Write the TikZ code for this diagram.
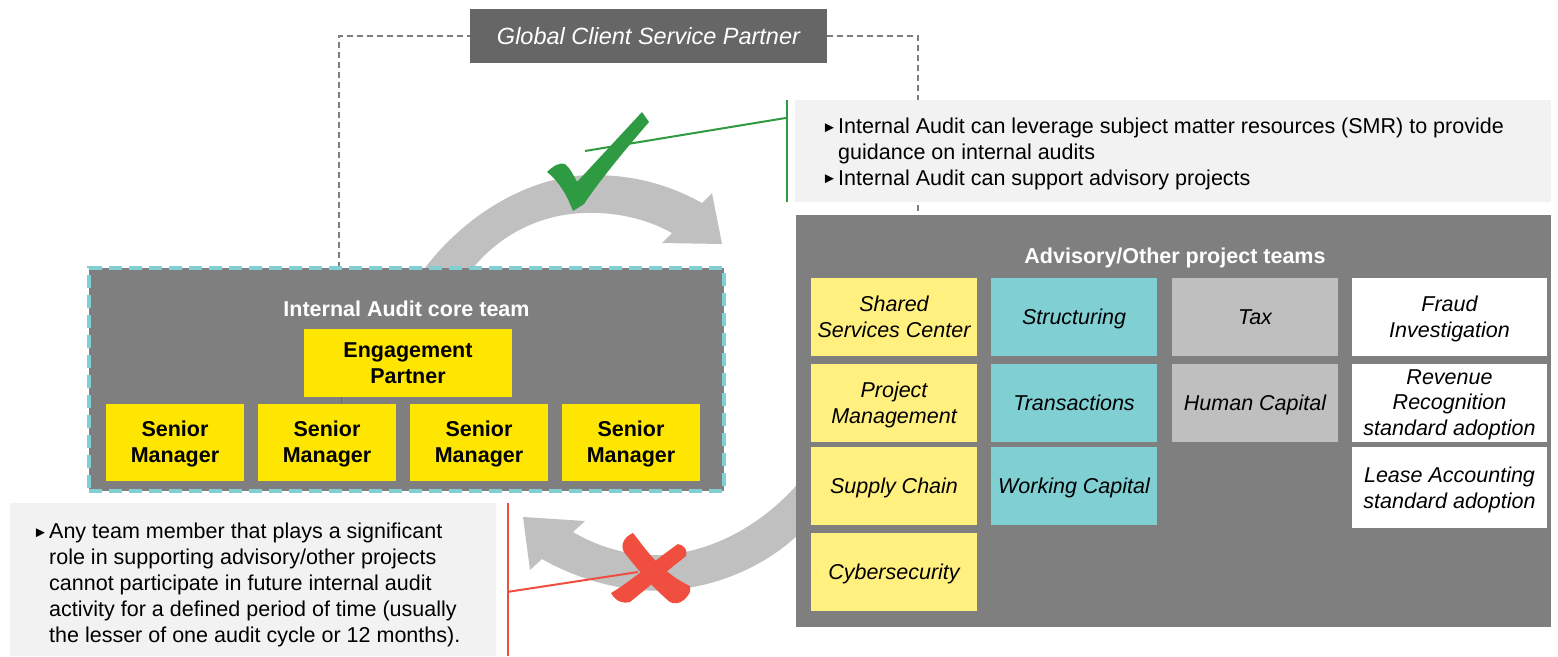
\documentclass[tikz,border=0pt]{standalone}
\usepackage{fontspec}
\setmainfont{Liberation Sans}
\usetikzlibrary{positioning,calc}
\definecolor{boxgray}{RGB}{127,127,127}
\definecolor{titlegray}{RGB}{102,102,102}
\definecolor{arrowgray}{RGB}{192,192,192}
\definecolor{paleback}{RGB}{242,242,242}
\definecolor{eyyellow}{RGB}{255,230,0}
\definecolor{paleyellow}{RGB}{255,240,128}
\definecolor{tealcell}{RGB}{127,207,211}
\definecolor{greycell}{RGB}{191,191,191}
\definecolor{checkgreen}{RGB}{46,154,66}
\definecolor{crossred}{RGB}{240,78,62}
\newcommand{\bodysize}{\fontsize{21.5}{25.8}\selectfont}
\newcommand{\bul}{\makebox[16pt][l]{\fontsize{15}{15}\selectfont\raisebox{1.5pt}{►}}}
\tikzset{
  panel/.style={rectangle,fill=boxgray,inner sep=0pt},
  notebox/.style={rectangle,fill=paleback,inner sep=0pt},
  notetext/.style={font=\bodysize,align=left,inner sep=0pt,text=black},
  ybox/.style={rectangle,fill=eyyellow,inner sep=0pt,align=center,text depth=0pt,font=\bodysize\bfseries},
  cell/.style={rectangle,inner sep=0pt,align=center,text depth=0pt,font=\bodysize\itshape,minimum width=166pt,minimum height=78pt},
  headtext/.style={font=\bodysize\bfseries,text=white}
}

\begin{document}
\begin{tikzpicture}[
  x=1pt,y=-1pt,
  ycell/.style={cell,fill=paleyellow},
  tcell/.style={cell,fill=tealcell},
  gcell/.style={cell,fill=greycell},
  wcell/.style={cell,fill=white,minimum width=195pt},
  dashline/.style={draw=titlegray!85,line width=1.2pt,dash pattern=on 6pt off 4pt},
  greenline/.style={draw=checkgreen,line width=2pt},
  redline/.style={draw=crossred,line width=2pt},
  bigarrow/.style={fill=arrowgray}
]
\useasboundingbox (0,0) rectangle (1558,656);

\node[fill=titlegray,text=white,inner sep=0pt,minimum width=357pt,minimum height=54pt,
      font=\fontsize{23.5}{27}\selectfont\itshape] (gcsp) at (648.5,36) {Global Client Service Partner};

\coordinate (dl) at (339,268);
\coordinate (dr) at (918,215);

% reporting line, runs behind the boxes
\draw[dashline] (dl) |- (gcsp.west);
\draw[dashline] (gcsp.east) -| (dr);

% the two big arrows
\fill[bigarrow] (425,268) .. controls (465,215) and (530,175) .. (593,175)
  .. controls (640,175) and (675,188) .. (702,203) -- (712,193) -- (722,244)
  -- (662,243) -- (672,233) .. controls (645,218) and (615,212) .. (585,213)
  .. controls (540,214) and (500,235) .. (473,268) -- cycle;
\fill[bigarrow] (812,520) .. controls (770,570) and (700,595) .. (640,590)
  .. controls (605,587) and (570,575) .. (542,559) -- (530,570) -- (523,517)
  -- (585,521) -- (573,532) .. controls (600,548) and (630,556) .. (660,555)
  .. controls (715,553) and (770,520) .. (805,475) -- cycle;

% core team
\node[panel,minimum width=635pt,minimum height=223pt,draw=tealcell,line width=3.5pt,
      dash pattern=on 13pt off 7pt] (core) at (406.5,379.5) {};
\node[headtext] (coretitle) at (406.5,309) {Internal Audit core team};
\node[ybox,minimum width=208pt,minimum height=68pt] (ep) at (408,363) {Engagement\\Partner};
\foreach \i/\cx in {1/175,2/327,3/479,4/631}{
  \node[ybox,minimum width=138pt,minimum height=77pt] (sm\i) at (\cx,442) {Senior\\Manager};
}
\coordinate (tk) at (341,397);
\draw[titlegray,line width=1pt] (tk) -- (tk |- sm2.north);

% advisory teams
\node[panel,minimum width=755pt,minimum height=412pt] (adv) at (1173.5,421) {};
\node[headtext,text depth=0pt] (advtitle) at (1175,256) {Advisory/Other project teams};

\node[ycell] (ssc)   at (894,317)    {Shared\\Services Center};
\node[ycell] (pm)    at (894,402.5)  {Project\\Management};
\node[ycell] (sc)    at (894,486)    {Supply Chain};
\node[ycell] (cyber) at (894,572)    {Cybersecurity};
\node[tcell] (str)   at (1074,317)   {Structuring};
\node[tcell] (trans) at (1074,402.5) {Transactions};
\node[tcell] (wc)    at (1074,486)   {Working Capital};
\node[gcell] (tax)   at (1255,317)   {Tax};
\node[gcell] (hc)    at (1255,402.5) {Human Capital};
\node[wcell] (fraud) at (1449.5,317)   {Fraud\\Investigation};
\node[wcell] (rev)   at (1449.5,402.5) {Revenue\\Recognition\\standard adoption};
\node[wcell,minimum height=81pt] (lease) at (1449.5,487.5) {Lease Accounting\\standard adoption};

% notes
\node[notebox,minimum width=756pt,minimum height=102pt] (smrbox) at (1173,151) {};
\node[notetext,anchor=west] (smrtext) at (822,154)
  {\bul Internal Audit can leverage subject matter resources (SMR) to provide\\
   \hspace*{16pt}guidance on internal audits\\
   \bul Internal Audit can support advisory projects};

\node[notebox,minimum width=486pt,minimum height=153pt] (rulebox) at (253,579.5) {};
\node[notetext,anchor=west] (ruletext) at (33,585)
  {\bul Any team member that plays a significant\\
   \hspace*{16pt}role in supporting advisory/other projects\\
   \hspace*{16pt}cannot participate in future internal audit\\
   \hspace*{16pt}activity for a defined period of time (usually\\
   \hspace*{16pt}the lesser of one audit cycle or 12 months).};

% tick and cross
\fill[checkgreen] (547,172) .. controls (553,166) and (560,162) .. (565,164)
  .. controls (570,168) and (574,176) .. (577,182) -- (642,112) -- (649,122)
  .. controls (625,150) and (600,180) .. (584,204) -- (573,211)
  .. controls (568,198) and (560,182) .. (547,172) -- cycle;
\coordinate (tickpt) at (585,151);
\coordinate (crosspt) at (638,572);
\fill[crossred] (633,533) .. controls (645,548) and (660,572) .. (690,586) -- (690,592)
  .. controls (686,600) and (678,606) .. (670,602) .. controls (655,590) and (638,570) .. (624,552)
  .. controls (620,545) and (624,537) .. (633,533) -- cycle;
\fill[crossred] (678,544) .. controls (684,545) and (688,550) .. (686,556)
  .. controls (668,570) and (645,590) .. (630,602) .. controls (624,604) and (616,602) .. (611,593)
  .. controls (630,582) and (655,560) .. (678,544) -- cycle;

\draw[greenline] ([xshift=-8pt]smrbox.north west) -- ([xshift=-8pt]smrbox.south west);
\draw[greenline] (tickpt) -- ([xshift=-8pt,yshift=-18pt]smrbox.north west);
\draw[redline] ([xshift=12pt]rulebox.north east) -- ([xshift=12pt]rulebox.south east);
\draw[redline] ([xshift=12pt,yshift=-89pt]rulebox.north east) -- (crosspt);

\end{tikzpicture}
\end{document}
